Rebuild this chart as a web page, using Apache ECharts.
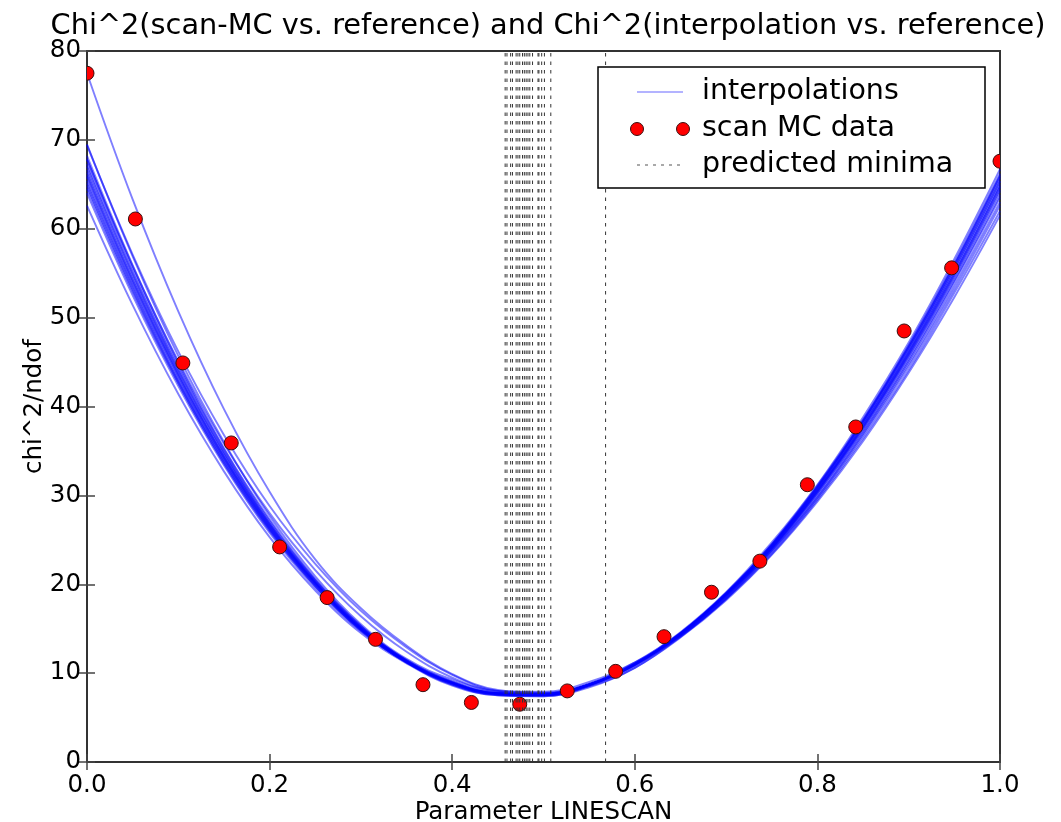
<!DOCTYPE html>
<html>
<head>
<meta charset="utf-8">
<title>Chi^2 linescan</title>
<script src="https://cdn.jsdelivr.net/npm/echarts@6/dist/echarts.min.js"></script>
<style>
html, body { margin: 0; padding: 0; background: #fff; }
#main { width: 1061px; height: 822px; }
</style>
</head>
<body>
<div id="main"></div>
<script>
const xGrid = [0, 0.05, 0.1, 0.15, 0.2, 0.25, 0.3, 0.35, 0.4, 0.45, 0.5,
  0.55, 0.6, 0.65, 0.7, 0.75, 0.8, 0.85, 0.9, 0.95, 1.0];

// chi^2/ndof of each interpolation at xGrid
const interpCurves = [
  [69.5, 56.9, 45.7, 36.0, 27.7, 20.9, 15.5, 11.6, 9.3, 8.0, 7.9, 9.0, 11.2, 14.2, 18.4, 23.7, 29.8, 36.9, 44.8, 53.6, 63.0],
  [68.2, 55.9, 44.9, 35.3, 27.3, 20.6, 15.3, 11.5, 9.1, 7.8, 7.7, 8.8, 11.1, 14.3, 18.7, 24.0, 30.4, 37.6, 45.7, 54.7, 64.4],
  [67.3, 55.1, 44.3, 34.9, 26.9, 20.4, 15.2, 11.4, 8.9, 7.7, 7.6, 8.7, 11.0, 14.4, 18.9, 24.3, 30.7, 38.1, 46.3, 55.5, 65.3],
  [66.6, 54.6, 43.9, 34.6, 26.7, 20.2, 15.1, 11.3, 8.8, 7.6, 7.5, 8.6, 10.9, 14.4, 18.8, 24.2, 30.6, 37.9, 46.1, 55.2, 65.0],
  [66.0, 54.1, 43.5, 34.3, 26.5, 20.1, 15.0, 11.3, 8.9, 7.7, 7.6, 8.7, 11.0, 14.5, 18.9, 24.4, 30.9, 38.3, 46.6, 55.8, 65.7],
  [65.4, 53.6, 43.1, 34.0, 26.3, 20.0, 14.9, 11.3, 8.8, 7.6, 7.5, 8.6, 11.0, 14.5, 19.0, 24.5, 31.1, 38.5, 46.9, 56.2, 66.2],
  [64.8, 53.1, 42.7, 33.7, 26.1, 19.8, 14.8, 11.2, 8.9, 7.7, 7.6, 8.7, 11.1, 14.6, 19.1, 24.7, 31.2, 38.8, 47.2, 56.6, 66.7],
  [64.0, 52.5, 42.3, 33.4, 25.8, 19.6, 14.7, 11.2, 8.7, 7.6, 7.5, 8.6, 10.8, 14.3, 18.6, 23.9, 30.2, 37.3, 45.3, 54.2, 63.8],
  [62.6, 51.4, 41.4, 32.7, 25.3, 19.3, 14.5, 11.1, 8.6, 7.5, 7.4, 8.5, 10.6, 14.1, 18.3, 23.4, 29.5, 36.4, 44.1, 52.8, 62.0],
  [64.5, 52.9, 42.6, 33.6, 26.0, 19.8, 14.8, 11.2, 8.7, 7.5, 7.4, 8.4, 10.6, 14.0, 18.2, 23.3, 29.3, 36.1, 43.8, 52.3, 61.5],
  [67.0, 54.9, 44.1, 34.8, 26.8, 20.3, 15.1, 11.4, 9.0, 7.8, 7.7, 8.8, 11.2, 14.5, 19.0, 24.5, 31.0, 38.4, 46.8, 56.0, 66.0],
  [65.8, 53.9, 43.4, 34.2, 26.4, 20.1, 15.0, 11.3, 8.9, 7.7, 7.6, 8.7, 11.0, 14.4, 18.7, 24.1, 30.5, 37.7, 45.9, 54.9, 64.7],
  [66.3, 54.3, 43.7, 34.4, 26.6, 20.2, 15.0, 11.3, 8.9, 7.7, 7.6, 8.7, 11.0, 14.4, 18.9, 24.3, 30.8, 38.1, 46.4, 55.5, 65.4],
  [65.1, 53.4, 42.9, 33.9, 26.2, 19.9, 14.9, 11.2, 8.9, 7.7, 7.6, 8.7, 11.0, 14.5, 19.0, 24.4, 30.9, 38.4, 46.7, 55.9, 65.9],
  [67.8, 55.5, 44.6, 35.2, 27.1, 20.5, 15.3, 11.4, 9.0, 7.7, 7.6, 8.7, 11.0, 14.4, 18.8, 24.1, 30.5, 37.8, 46.0, 55.0, 64.8],
  [77.5, 63.3, 50.7, 39.7, 30.4, 22.8, 17.3, 13.1, 9.9, 8.1, 7.8, 8.7, 10.9, 14.1, 18.4, 23.6, 29.7, 36.7, 44.5, 53.2, 62.6],
  [69.4, 57.1, 46.2, 36.8, 28.8, 22.3, 17.0, 12.9, 9.8, 8.0, 7.7, 8.7, 10.9, 14.2, 18.5, 23.8, 30.0, 37.1, 45.1, 54.0, 63.5],
  [67.8, 55.8, 45.1, 35.8, 28.0, 21.6, 16.4, 12.4, 9.5, 7.9, 7.6, 8.7, 11.0, 14.3, 18.7, 24.0, 30.3, 37.5, 45.6, 54.5, 64.2]
];

// scan MC points
const scanX = [0, 0.053, 0.105, 0.158, 0.211, 0.263, 0.316, 0.368, 0.421, 0.474,
  0.526, 0.579, 0.632, 0.684, 0.737, 0.789, 0.842, 0.895, 0.947, 1.0];
const scanY = [77.5, 61.1, 44.9, 35.9, 24.2, 18.5, 13.8, 8.7, 6.7, 6.5,
  8.0, 10.2, 14.1, 19.1, 22.6, 31.2, 37.7, 48.5, 55.6, 67.6];

// predicted minima (vertical dotted lines)
const minima = [0.458, 0.460, 0.464, 0.466, 0.470, 0.472, 0.474, 0.477, 0.479, 0.481,
  0.483, 0.485, 0.488, 0.494, 0.495, 0.498, 0.501, 0.508, 0.568];

const xTicks = [0, 0.2, 0.4, 0.6, 0.8, 1.0];
const yTicks = [0, 10, 20, 30, 40, 50, 60, 70, 80];

const FONT = '"DejaVu Sans", sans-serif';
const lineBlue = 'rgba(0,0,255,0.5)';
const dotStyle = { fill: '#ff0000', stroke: '#3a1010', lineWidth: 1 };
const tickStyle = { inside: true, length: 8, lineStyle: { color: '#444', width: 1.5 } };

let series = [];
interpCurves.forEach(function (c) {
  series.push({
    name: 'interpolations',
    type: 'line',
    smooth: 0.4,
    showSymbol: false,
    silent: true,
    z: 2,
    lineStyle: { color: lineBlue, width: 1.9 },
    data: c.map(function (v, j) { return [xGrid[j], v]; })
  });
});
// scan points as a clipped custom series (markers are cut at the frame)
series.push({
  name: 'scan MC data',
  type: 'custom',
  clip: true,
  z: 3,
  encode: { x: 0, y: 1 },
  renderItem: function (params, api) {
    const p = api.coord([api.value(0), api.value(1)]);
    return { type: 'circle', shape: { cx: p[0], cy: p[1], r: 7 }, style: dotStyle };
  },
  data: scanX.map(function (x, i) { return [x, scanY[i]]; })
});
minima.forEach(function (m) {
  series.push({
    name: 'predicted minima',
    type: 'line',
    showSymbol: false,
    silent: true,
    z: 4,
    lineStyle: { color: '#333', width: 1, type: [3.5, 5] },
    data: [[m, yTicks[0]], [m, yTicks[yTicks.length - 1]]]
  });
});

const legendTextStyle = { fontFamily: FONT, fontSize: 28.5, fill: '#000', verticalAlign: 'middle' };

let myChart = echarts.init(document.getElementById('main'));
myChart.setOption({
  animation: false,
  backgroundColor: '#fff',
  title: {
    text: 'Chi^2(scan-MC vs. reference) and Chi^2(interpolation vs. reference)',
    left: 543,
    textAlign: 'center',
    top: 7,
    textStyle: { fontFamily: FONT, fontSize: 28.8, fontWeight: 'normal', color: '#000' }
  },
  grid: {
    left: 87, right: 61, top: 51, bottom: 60,
    show: true, borderColor: '#333', borderWidth: 2,
    outerBoundsMode: 'none'
  },
  xAxis: [{
    type: 'value',
    min: xTicks[0], max: xTicks[xTicks.length - 1], interval: 0.2,
    name: 'Parameter LINESCAN',
    nameLocation: 'middle',
    nameGap: 38,
    nameMoveOverlap: false,
    nameTextStyle: { fontFamily: FONT, fontSize: 24.5, color: '#000' },
    axisLine: { show: false },
    axisTick: tickStyle,
    splitLine: { show: false },
    axisLabel: {
      fontFamily: FONT, fontSize: 24.5, color: '#000', margin: 11,
      showMinLabel: true, showMaxLabel: true,
      formatter: function (v) { return v.toFixed(1); }
    }
  }, {
    type: 'value', position: 'top',
    min: xTicks[0], max: xTicks[xTicks.length - 1], interval: 0.2,
    axisLine: { show: false }, axisTick: tickStyle,
    axisLabel: { show: false }, splitLine: { show: false }
  }],
  yAxis: [{
    type: 'value',
    min: yTicks[0], max: yTicks[yTicks.length - 1], interval: 10,
    name: 'chi^2/ndof',
    nameLocation: 'middle',
    nameGap: 40,
    nameMoveOverlap: false,
    nameRotate: 90,
    nameTextStyle: { fontFamily: FONT, fontSize: 24.5, color: '#000' },
    axisLine: { show: false },
    axisTick: tickStyle,
    splitLine: { show: false },
    axisLabel: {
      fontFamily: FONT, fontSize: 24.5, color: '#000', margin: 6,
      showMinLabel: true, showMaxLabel: true
    }
  }, {
    type: 'value', position: 'right',
    min: yTicks[0], max: yTicks[yTicks.length - 1], interval: 10,
    axisLine: { show: false }, axisTick: tickStyle,
    axisLabel: { show: false }, splitLine: { show: false }
  }],
  series: series,
  graphic: [
    { type: 'rect', z: 100, shape: { x: 598, y: 67, width: 387, height: 121 },
      style: { fill: '#fff', stroke: '#000', lineWidth: 1.5 } },
    { type: 'line', z: 101, shape: { x1: 637, y1: 92, x2: 683, y2: 92 },
      style: { stroke: 'rgba(0,0,255,0.4)', lineWidth: 1.5 } },
    { type: 'text', z: 101, x: 702, y: 92, style: Object.assign({ text: 'interpolations' }, legendTextStyle) },
    { type: 'circle', z: 101, shape: { cx: 637, cy: 129, r: 6.5 }, style: dotStyle },
    { type: 'circle', z: 101, shape: { cx: 683, cy: 129, r: 6.5 }, style: dotStyle },
    { type: 'text', z: 101, x: 702, y: 129, style: Object.assign({ text: 'scan MC data' }, legendTextStyle) },
    { type: 'line', z: 101, shape: { x1: 637, y1: 165, x2: 683, y2: 165 },
      style: { stroke: '#555', lineWidth: 1.2, lineDash: [3, 5] } },
    { type: 'text', z: 101, x: 702, y: 165, style: Object.assign({ text: 'predicted minima' }, legendTextStyle) }
  ]
});
</script>
</body>
</html>
